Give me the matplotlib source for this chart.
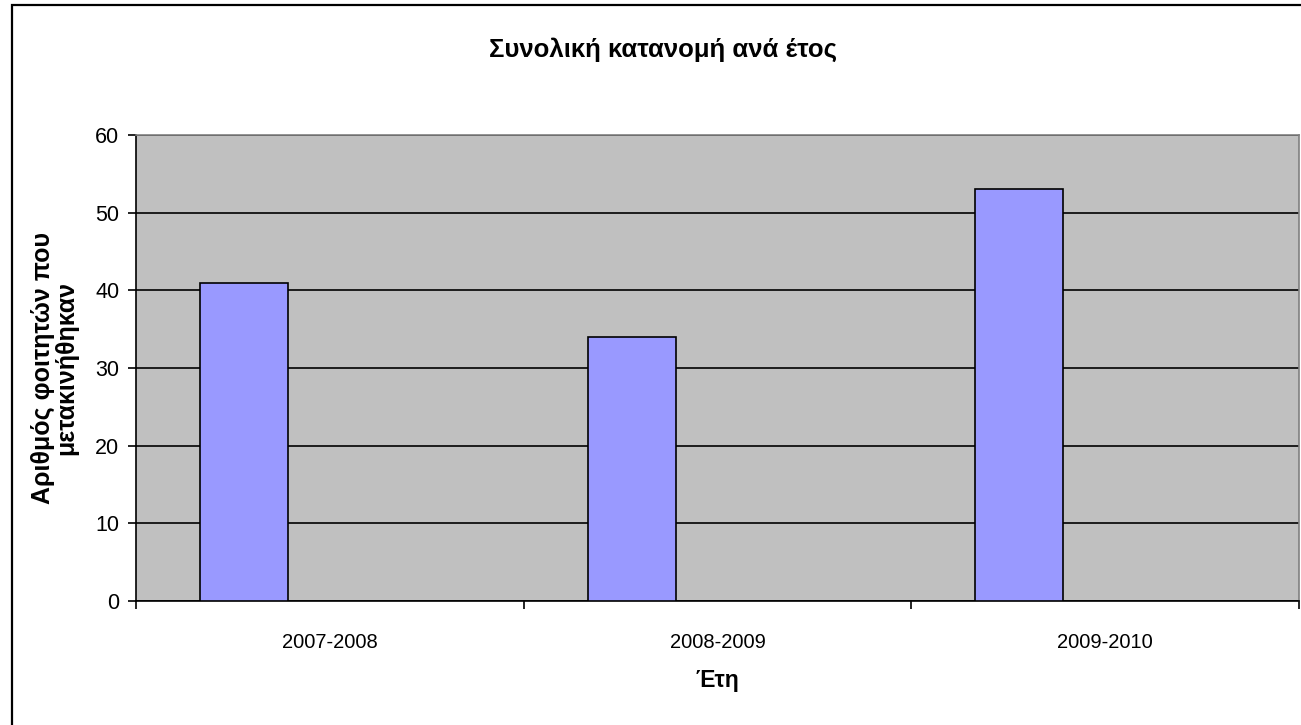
import matplotlib.pyplot as plt
from matplotlib.patches import Rectangle

plt.rcParams['font.family'] = ['Liberation Sans', 'DejaVu Sans']

years = ["2007-2008", "2008-2009", "2009-2010"]
students = [41, 34, 53]

title = "Συνολική κατανομή ανά έτος"
ylabel = "Αριθμός φοιτητών που\nμετακινήθηκαν"
xlabel = "Έτη"

W, H = 1301, 725
fig = plt.figure(figsize=(W / 100, H / 100), dpi=100)
ax = fig.add_axes([136 / W, 1 - 601 / H, 1163 / W, 466 / H])
ax.set_facecolor('#C0C0C0')

# excel style cluster: bar sits in the first third of each category slot
n = len(years)
bar_w = 88 / 388
offset = 64 / 388
xs = [i + offset + bar_w / 2 for i in range(n)]
ax.bar(xs, students, width=bar_w, color='#9999FF', edgecolor='black', linewidth=1.2, zorder=3)

ax.set_xlim(0, n)
ax.set_ylim(0, 60)
ax.set_yticks(range(0, 61, 10))
ax.yaxis.grid(True, color='black', linewidth=1.2, zorder=1)
ax.set_axisbelow(True)

ax.set_xticks(range(n + 1))
ax.set_xticklabels([])
ax.set_xticks([i + 0.5 for i in range(n)], minor=True)
ax.set_xticklabels(years, minor=True)
ax.tick_params(axis='x', which='minor', length=0, pad=23, labelsize=14.5)
ax.tick_params(axis='x', which='major', length=6, width=1.2, direction='out')
ax.tick_params(axis='y', length=6, width=1.2, direction='out', labelsize=15.5, pad=6)

for s in ['top', 'right']:
    ax.spines[s].set_color('#808080')
    ax.spines[s].set_linewidth(1.2)
for s in ['left', 'bottom']:
    ax.spines[s].set_color('black')
    ax.spines[s].set_linewidth(1.2)

ax.set_ylabel(ylabel, fontsize=18, fontweight='bold', labelpad=12, linespacing=0.95)
ax.set_xlabel(xlabel, fontsize=16.5, fontweight='bold', labelpad=12)

fig.text(663 / W, 1 - 50 / H, title, ha='center', va='center', fontsize=18.5, fontweight='bold')

fig.patches.append(Rectangle((12 / W, -0.1), 2, 1.1 - 5 / H, transform=fig.transFigure,
                             fill=False, edgecolor='black', linewidth=1.6))

fig.savefig('out.png', dpi=100)
